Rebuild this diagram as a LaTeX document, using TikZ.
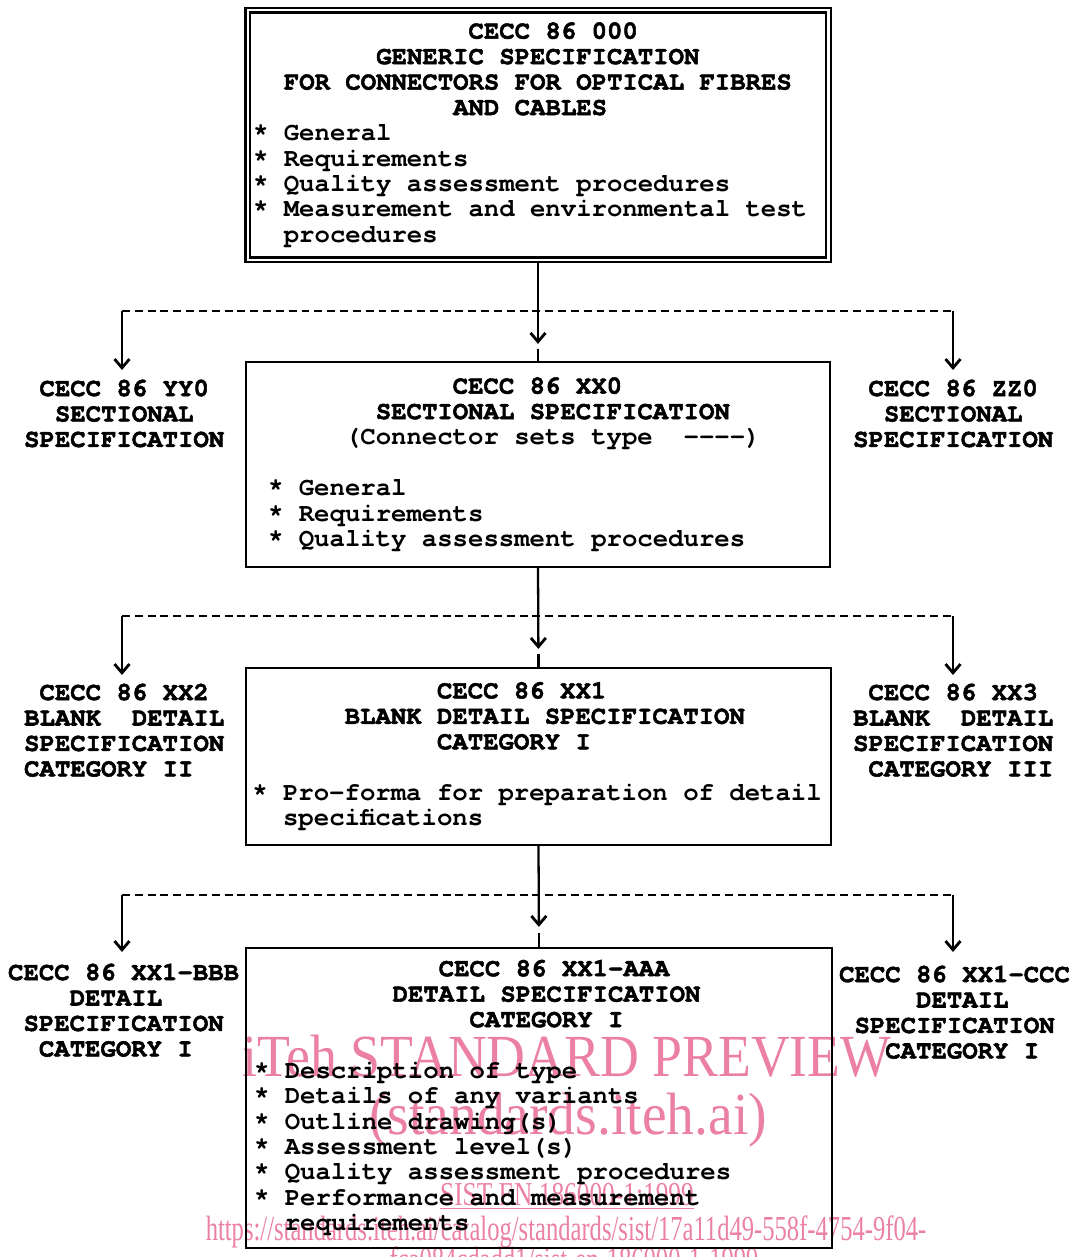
\documentclass[tikz,border=0pt]{standalone}
\usepackage{fontspec}
\usepackage{graphicx}
\newfontfamily\itemfont{texgyrecursor-bold.otf}
\newfontfamily\heavyfont{texgyrecursor-bold.otf}[FakeBold=2]
\newfontfamily\wmfont{Liberation Serif}
\usetikzlibrary{arrows.meta}
\definecolor{wmpink}{RGB}{235,128,162}
% typewriter columns (one column = 0.6em in a mono font)
\newcommand\col[1]{\hspace*{\dimexpr #1em*6/10\relax}}
\newcommand\hd[1]{{\heavyfont #1}}
\newcommand\itm{\makebox[1.2em][l]{*}}
\newcommand\spec{\itemfont\fontsize{14.6pt}{14.5pt}\selectfont}

\begin{document}
\begin{tikzpicture}[x=0.02cm, y=-0.02cm, line width=1.3pt,
  specbox/.style={draw, rectangle, align=left, inner ysep=0pt, font=\spec,
    execute at begin node={\spaceskip=0.6em\xspaceskip=0.6em\relax}},
  sidetext/.style={align=left, inner sep=0pt, anchor=north west, font=\spec\heavyfont},
  conn/.style={-{Straight Barb[length=5pt, width=8.5pt, line width=1.6pt]}},
  dashline/.style={dash pattern=on 4.5pt off 2.8pt},
  wmark/.style={text=wmpink, inner sep=0pt, anchor=base}]
  \useasboundingbox (0,0) rectangle (1075,1257);

  % watermark (lies under the drawing)
  \node[wmark, font=\wmfont\fontsize{34pt}{34pt}\selectfont] (wm1) at (567,1076)
    {\scalebox{0.9}[1]{iTeh STANDARD PREVIEW}};
  \node[wmark, font=\wmfont\fontsize{34pt}{34pt}\selectfont] (wm2) at (568,1134)
    {\scalebox{0.93}[1]{(standards.iteh.ai)}};
  \node[wmark, font=\wmfont\fontsize{19pt}{19pt}\selectfont] (wm3) at (567,1205)
    {\scalebox{0.76}[1]{\underline{SIST EN 186000-1:1999}}};
  \node[wmark, font=\wmfont\fontsize{20pt}{20pt}\selectfont] (wm4) at (566,1240)
    {\scalebox{0.7}[1]{https://standards.iteh.ai/catalog/standards/sist/17a11d49-558f-4754-9f04-}};
  \node[wmark, font=\wmfont\fontsize{20pt}{20pt}\selectfont] (wm5) at (574,1271)
    {\scalebox{0.7}[1]{fca084cdadd1/sist-en-186000-1-1999}};

  % generic specification
  \node[specbox, double, line width=1.4pt, double distance=1.2pt,
    minimum width=11.62cm, minimum height=5cm, text width=11.4cm, inner xsep=0.11cm]
    (gen) at (538,135) {%
    \hd{\col{14}CECC 86 000}\\
    \hd{\col{8}GENERIC SPECIFICATION}\\
    \hd{\col{2}FOR CONNECTORS FOR OPTICAL FIBRES}\\
    \hd{\col{13}AND CABLES}\\
    \itm General\\
    \itm Requirements\\
    \itm Quality assessment procedures\\
    \itm Measurement and environmental test\\
    \col{2}procedures};

  % sectional specification
  \node[specbox, minimum width=11.68cm, minimum height=4.1cm, text width=10.8cm, inner xsep=0.44cm]
    (sec) at (538,464.5) {%
    \hd{\col{12}CECC 86 XX0}\\
    \hd{\col{7}SECTIONAL SPECIFICATION}\\
    \col{5}(Connector sets type\col{2}----)\\[\baselineskip]
    \itm General\\
    \itm Requirements\\
    \itm Quality assessment procedures};
  \node[sidetext] (yy0) at (23,378.5) {%
    \col{1}CECC 86 YY0\\
    \col{2}SECTIONAL\\
    SPECIFICATION};
  \node[sidetext] (zz0) at (852,378.5) {%
    \col{1}CECC 86 ZZ0\\
    \col{2}SECTIONAL\\
    SPECIFICATION};

  % blank detail specification
  \node[specbox, minimum width=11.7cm, minimum height=3.54cm, text width=11.45cm, inner xsep=0.12cm]
    (bds) at (538.5,756.5) {%
    \hd{\col{12}CECC 86 XX1}\\
    \hd{\col{6}BLANK DETAIL SPECIFICATION}\\
    \hd{\col{12}CATEGORY I}\\[\baselineskip]
    \itm Pro-forma for preparation of detail\\
    \col{2}specifications};
  \node[sidetext] (xx2) at (23,682.5) {%
    \col{1}CECC 86 XX2\\
    BLANK\col{2}DETAIL\\
    SPECIFICATION\\
    CATEGORY II};
  \node[sidetext] (xx3) at (852,682.5) {%
    \col{1}CECC 86 XX3\\
    BLANK\col{2}DETAIL\\
    SPECIFICATION\\
    \col{1}CATEGORY III};

  % detail specification
  \node[specbox, minimum width=11.72cm, minimum height=6cm, text width=11.4cm, inner xsep=0.16cm]
    (ds) at (539,1098) {%
    \hd{\col{12}CECC 86 XX1-AAA}\\
    \hd{\col{9}DETAIL SPECIFICATION}\\
    \hd{\col{14}CATEGORY I}\\[\baselineskip]
    \itm Description of type\\
    \itm Details of any variants\\
    \itm Outline drawing(s)\\
    \itm Assessment level(s)\\
    \itm Quality assessment procedures\\
    \itm Performance and measurement\\
    \col{2}requirements};
  \node[sidetext] (bbb) at (7,962.5) {%
    CECC 86 XX1-BBB\\
    \col{4}DETAIL\\
    \col{1}SPECIFICATION\\
    \col{2}CATEGORY I};
  \node[sidetext] (ccc) at (838,964.5) {%
    CECC 86 XX1-CCC\\
    \col{5}DETAIL\\
    \col{1}SPECIFICATION\\
    \col{3}CATEGORY I};

  % branch points
  \coordinate (j1) at (538,311);
  \coordinate (l1) at (122,311);
  \coordinate (r1) at (953,311);
  \coordinate (j2) at (538,616);
  \coordinate (l2) at (122,616);
  \coordinate (r2) at (953,616);
  \coordinate (j3) at (538,895);
  \coordinate (l3) at (122,895);
  \coordinate (r3) at (953,895);

  % connectors
  \draw[conn, shorten >=0.34cm] (gen.south) -- (sec.north);
  \draw (sec.north) -- ++(0,-12);
  \draw[dashline] (l1) -- (r1);
  \draw[conn, shorten >=0.17cm] (l1) -- (l1 |- yy0.north);
  \draw[conn, shorten >=0.17cm] (r1) -- (r1 |- zz0.north);

  \draw[conn, shorten >=0.36cm] (sec.south) -- (bds.north);
  \draw (bds.north) -- ++(0,-13);
  \draw[dashline] (l2) -- (r2);
  \draw[conn, shorten >=0.15cm] (l2) -- (l2 |- xx2.north);
  \draw[conn, shorten >=0.15cm] (r2) -- (r2 |- xx3.north);

  \draw[conn, shorten >=0.4cm] (bds.south) -- (ds.north);
  \draw (ds.north) -- ++(0,-14);
  \draw[dashline] (l3) -- (r3);
  \draw[conn, shorten >=0.21cm] (l3) -- (l3 |- bbb.north);
  \draw[conn, shorten >=0.25cm] (r3) -- (r3 |- ccc.north);
\end{tikzpicture}
\end{document}
